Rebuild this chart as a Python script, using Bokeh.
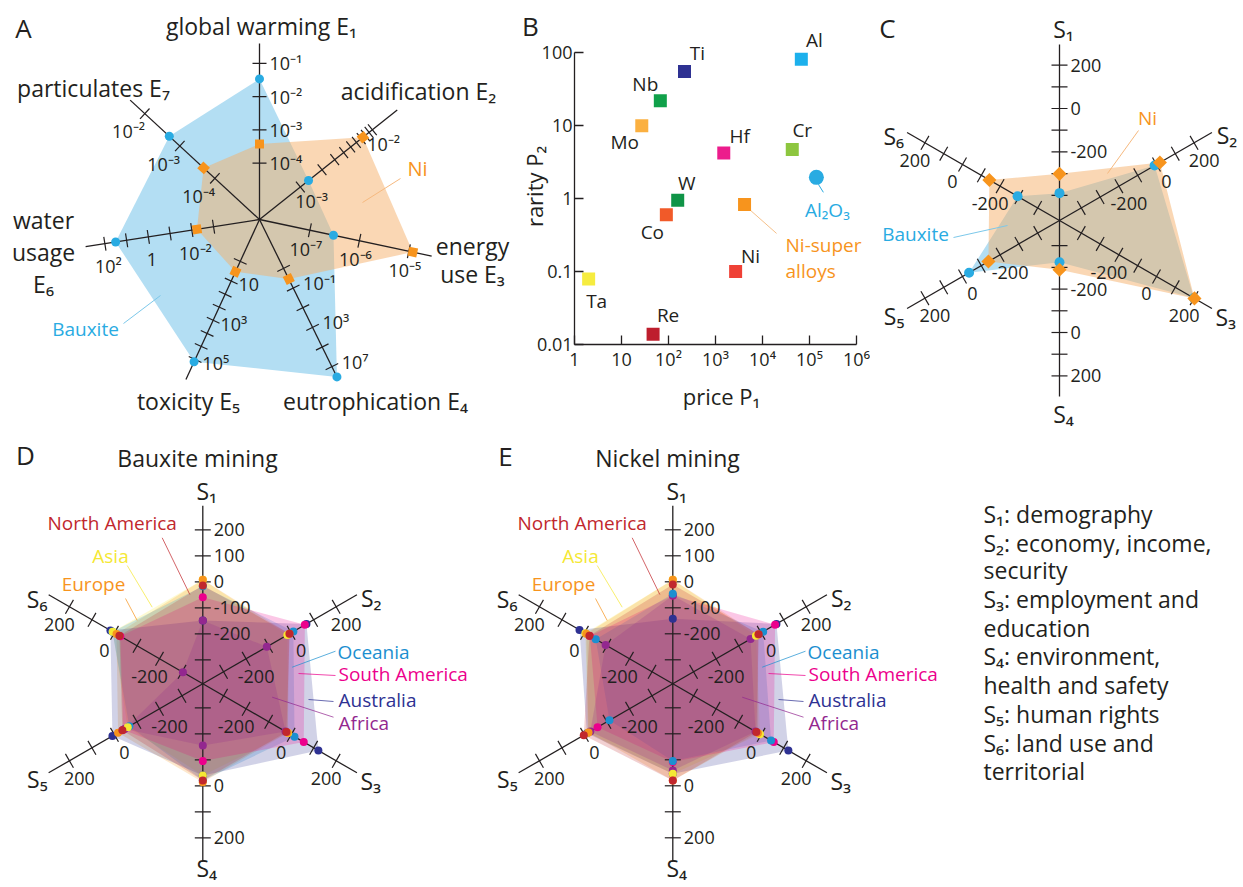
import math
from bokeh.plotting import figure
from bokeh.models import Range1d, LabelSet, ColumnDataSource, FixedTicker
from bokeh.layouts import row, column
from bokeh.embed import file_html
from bokeh.resources import INLINE
from bokeh.core.properties import value

FONT = "Open Sans"
INK = "#231f20"

# ======================= DATA =======================
# Panel A - environmental indicators (log scales)
env_names = ["global warming E₁", "acidification E₂", "energy\nuse E₃", "eutrophication E₄",
             "toxicity E₅", "water\nusage\nE₆", "particulates E₇"]
env_bauxite = [3.4e-2, 1.3e-3, 3.0e-7, 1.1e8, 1.3e5, 32.0, 2.0e-3]
env_nickel = [3.8e-4, 7.4e-3, 1.2e-5, 1.2e-2, 3.4, 5.8e-3, 2.1e-4]
env_ticks = [
    [1e-4, 1e-3, 1e-2, 1e-1],
    [1e-3, 2e-3, 3e-3, 4e-3, 5e-3, 6e-3, 7e-3, 8e-3, 9e-3, 1e-2],
    [1e-7, 1e-6, 1e-5],
    [1e-3, 1e-1, 1e1, 1e3, 1e5, 1e7],
    [1, 10, 47, 214, 1e3, 4.7e3, 2.14e4, 1e5],
    [1e-3, 1e-2, 1e-1, 1, 10, 100],
    [1e-4, 1e-3, 1e-2],
]
env_tick_labels = [
    [(1e-4, "10⁻⁴"), (1e-3, "10⁻³"), (1e-2, "10⁻²"), (1e-1, "10⁻¹")],
    [(1e-3, "10⁻³"), (1e-2, "10⁻²")],
    [(1e-7, "10⁻⁷"), (1e-6, "10⁻⁶"), (1e-5, "10⁻⁵")],
    [(1e-1, "10⁻¹"), (1e3, "10³"), (1e7, "10⁷")],
    [(10, "10"), (1e3, "10³"), (1e5, "10⁵")],
    [(1e-2, "10⁻²"), (1, "1"), (1e2, "10²")],
    [(1e-4, "10⁻⁴"), (1e-3, "10⁻³"), (1e-2, "10⁻²")],
]

# Panel B - price vs rarity
b_names = ["Ti", "Al", "Nb", "Mo", "Hf", "Cr", "W", "Co", "Ni-super\nalloys", "Ni", "Ta", "Re"]
b_price = [219, 6.7e4, 67, 27, 1.5e3, 4.3e4, 157, 90, 4.15e3, 2.68e3, 2.0, 47]
b_rarity = [55, 81, 21.8, 9.9, 4.2, 4.7, 0.95, 0.60, 0.83, 0.10, 0.079, 0.0138]
b_colors = ["#2e3192", "#1cb0ec", "#10a14a", "#fbb040", "#ec1c8c", "#8dc63f", "#0f9447",
            "#f15a29", "#f7941d", "#ef4136", "#f6ec3f", "#be1e2d"]
b_oxide_name = ["Al₂O₃"]
b_oxide_price = [1.4e5]
b_oxide_rarity = [1.95]
b_xticks = [1, 10, 100, 1000, 10000, 100000, 1000000]
b_xtick_labels = ["1", "10", "10²", "10³", "10⁴", "10⁵", "10⁶"]
b_yticks = [0.01, 0.1, 1, 10, 100]
b_ytick_labels = ["0.01", "0.1", "1", "10", "100"]

# Panel C - social indicators S1..S6
s_names = ["S₁", "S₂", "S₃", "S₄", "S₅", "S₆"]
c_bauxite = [-390, -10, 199, -324, -35, -293]
c_nickel = [-301, 18, 202, -289, -138, -143]

# Panels D, E - regions
regions = ["North America", "Asia", "Europe", "Oceania", "South America", "Australia", "Africa"]
region_colors = ["#c1272d", "#f5e834", "#f7941d", "#1c8fd0", "#ec008c", "#2e3192", "#93278f"]
d_north_america = [-14, -7, -21, -20, -35, -22]
d_asia = [8, -17, -13, -40, -59, 8]
d_europe = [8, -8, -15, -14, -16, -9]
d_oceania = [-17, 10, 15, -20, -66, 9]
d_south_america = [-59, 61, 56, -95, -39, -26]
d_australia = [-149, 68, 121, -40, 9, 18]
d_africa = [-149, -108, -25, -155, -45, -304]
e_north_america = [-10, -11, -21, -20, 3, -22]
e_asia = [8, -23, -5, -46, -16, -4]
e_europe = [8, -13, -14, -20, -18, -8]
e_oceania = [-46, 9, 44, -95, -111, -50]
e_south_america = [-53, 62, 56, -92, -58, -24]
e_australia = [-142, 68, 121, -46, -11, 22]
e_africa = [-53, -47, -25, -59, -26, -94]

legend_lines = ["S₁: demography", "S₂: economy, income,", "security", "S₃: employment and",
                "education", "S₄: environment,", "health and safety", "S₅: human rights",
                "S₆: land use and", "territorial"]

BLUE_FILL = "#b3def3"
ORANGE_FILL = "#f5af69"
BLUE = "#29abe2"
ORANGE = "#f7941d"


# ======================= HELPERS =======================
def radar_fig(W, H, OX, OY, CX, CY):
    p = figure(width=W, height=H,
               x_range=Range1d(OX - CX, OX + W - CX),
               y_range=Range1d(CY - (OY + H), CY - OY),
               x_axis_location=None, y_axis_location=None,
               toolbar_location=None, tools="", output_backend="svg", min_border=0)
    p.grid.visible = False
    p.outline_line_color = None
    p.frame_align = False
    return p


def put_text(p, xs, ys, texts, size, color=INK, align="center", angle=0.0):
    p.text(x=list(xs), y=list(ys), text=list(texts), text_font=value(FONT),
           text_font_size=f"{size}px", text_color=color, text_align=align,
           text_baseline="middle", angle=angle)


def unit(deg):
    t = math.radians(deg)
    return math.cos(t), math.sin(t)


TOP_H = 430
BOT_H = 455

# ======================= PANEL A =======================
A = dict(W=553, H=TOP_H, OX=0, OY=0, CX=259.0, CY=219.0)
pA = radar_fig(**A)
ra = lambda xr, yr: (xr - A["CX"], A["CY"] - yr)

A_ANG = [90.0, 38.5, -12.0, -63.8, -114.7, 188.9, 137.3]
A_REF_LOG = [-4, -3, -7, -3, 1, -2, -4]
A_REF_R = [56.3, 52.2, 51.5, 54.5, 67.7, 68.5, 60.7]
A_PX_DEC = [33.3, 92.0, 50.6, 10.95, 21.6, 22.0, 47.7]
A_LEN = 176
A_LAB_SIDE = [1, 1, 1, -1, -1, -1, -1]
A_LAB_OFF = [10, 18, 19, 11, 8, 23, 24]
A_LAB_ALIGN = ["left", "center", "center", "left", "left", "center", "center"]


def a_r(i, v):
    return A_REF_R[i] + (math.log10(v) - A_REF_LOG[i]) * A_PX_DEC[i]


def a_pt(i, v):
    ux, uy = unit(A_ANG[i])
    r = a_r(i, v)
    return r * ux, r * uy


bpts = [a_pt(i, v) for i, v in enumerate(env_bauxite)]
npts = [a_pt(i, v) for i, v in enumerate(env_nickel)]
pA.patch([q[0] for q in bpts], [q[1] for q in bpts], fill_color=BLUE_FILL, line_color=None)
pA.patch([q[0] for q in npts], [q[1] for q in npts], fill_color=ORANGE_FILL, fill_alpha=0.5,
         line_color=None)

ax_x1, ax_y1 = [], []
tx0, ty0, tx1, ty1 = [], [], [], []
for i in range(7):
    ux, uy = unit(A_ANG[i])
    ax_x1.append(A_LEN * ux)
    ax_y1.append(A_LEN * uy)
    nx, ny = -uy, ux
    for v in env_ticks[i]:
        r = a_r(i, v)
        tx0.append(r * ux - 7 * nx); ty0.append(r * uy - 7 * ny)
        tx1.append(r * ux + 7 * nx); ty1.append(r * uy + 7 * ny)
pA.segment(x0=[0] * 7, y0=[0] * 7, x1=ax_x1, y1=ax_y1, line_color=INK, line_width=1.3)
pA.segment(x0=tx0, y0=ty0, x1=tx1, y1=ty1, line_color=INK, line_width=1.2)

for i in range(7):
    ux, uy = unit(A_ANG[i])
    t = math.radians(A_ANG[i])
    sx, sy = A_LAB_SIDE[i] * math.sin(t), -A_LAB_SIDE[i] * math.cos(t)
    xs, ys, ts = [], [], []
    for v, lab in env_tick_labels[i]:
        r = a_r(i, v)
        xs.append(r * ux + A_LAB_OFF[i] * sx)
        ys.append(r * uy + A_LAB_OFF[i] * sy)
        ts.append(lab)
    put_text(pA, xs, ys, ts, 18, align=A_LAB_ALIGN[i])

pA.scatter([q[0] for q in bpts], [q[1] for q in bpts], marker="circle", size=9,
           fill_color=BLUE, line_color=None)
pA.scatter([q[0] for q in npts], [q[1] for q in npts], marker="square", size=9,
           angle=[math.radians(a) for a in A_ANG], fill_color=ORANGE, line_color=None)

A_TITLE_POS = [(261, 25), (418, 90), (472, 245), (375, 400), (188, 400), (43, 219), (93, 87)]
A_TITLE_GAP = [0, 0, 28, 0, 0, 32, 0]
for name, (xr, yr), gap in zip(env_names, A_TITLE_POS, A_TITLE_GAP):
    for k, line in enumerate(name.split("\n")):
        x, y = ra(xr, yr + k * gap)
        put_text(pA, [x], [y], [line], 23)

x0, y0 = ra(400, 178); x1, y1 = ra(362, 202)
pA.segment([x0], [y0], [x1], [y1], line_color="#f6b97f", line_width=1)
x0, y0 = ra(123, 323); x1, y1 = ra(160, 295)
pA.segment([x0], [y0], [x1], [y1], line_color="#7cc8ea", line_width=1)
x, y = ra(417, 168); put_text(pA, [x], [y], ["Ni"], 20, color=ORANGE)
x, y = ra(85, 328); put_text(pA, [x], [y], ["Bauxite"], 19, color=BLUE)
x, y = ra(23, 27); put_text(pA, [x], [y], ["A"], 26)
x, y = ra(530, 25); put_text(pA, [x], [y], ["B"], 26)

# ======================= PANEL B =======================
# frame (page pixels): left 574 (x=1), 47 px/decade; 0.01 at 344, 73 px/decade
B_LEFT, B_TOP, B_RIGHT, B_BOTTOM = 574.0, 28.0, 868.0, 344.0
B_X0, B_W = 460.0, 410
B_PXX, B_PXY = 47.0, 73.0
x_end = 10 ** ((B_RIGHT - B_LEFT) / B_PXX)
y_start = 0.01
y_end = 10 ** (-2 + (B_BOTTOM - B_TOP) / B_PXY)
pB = figure(width=B_W, height=TOP_H, x_axis_type="log", y_axis_type="log",
            x_range=Range1d(1, x_end), y_range=Range1d(y_start, y_end),
            toolbar_location=None, tools="", output_backend="svg",
            min_border_left=int(B_LEFT - B_X0), min_border_right=int(B_X0 + B_W - B_RIGHT),
            min_border_top=int(B_TOP), min_border_bottom=int(TOP_H - B_BOTTOM),
            margin=(0, 0, 0, int(B_X0 - A["W"])))
pB.frame_align = False
pB.grid.visible = False
pB.outline_line_color = None
pB.background_fill_color = None
pB.border_fill_color = None
for ax in (pB.xaxis[0], pB.yaxis[0]):
    ax.major_tick_in = 9
    ax.major_tick_out = 0
    ax.minor_tick_line_color = None
    ax.axis_line_width = 1.3
    ax.axis_line_color = INK
    ax.major_tick_line_width = 1.3
    ax.major_tick_line_color = INK
    ax.major_label_text_font = FONT
    ax.major_label_text_font_size = "18px"
    ax.major_label_text_color = INK
    ax.major_label_standoff = 2
    ax.axis_label_text_font = FONT
    ax.axis_label_text_font_size = "22px"
    ax.axis_label_text_font_style = "normal"
    ax.axis_label_text_color = INK
pB.xaxis.bounds = (1, 1e6)
pB.yaxis.bounds = (0.01, 100)
pB.xaxis.ticker = FixedTicker(ticks=b_xticks)
pB.yaxis.ticker = FixedTicker(ticks=b_yticks)
xo = {}
for t, lab in zip(b_xticks, b_xtick_labels):
    xo[float(t)] = lab
    xo[str(t)] = lab
yo = {}
for t, lab in zip(b_yticks, b_ytick_labels):
    yo[float(t)] = lab
    yo[lab] = lab
pB.xaxis.major_label_overrides = xo
pB.yaxis.major_label_overrides = yo
pB.xaxis.axis_label = "price P₁"
pB.xaxis.axis_label_standoff = 7
pB.yaxis.axis_label = "rarity P₂"
pB.yaxis.axis_label_standoff = -15


def b_shift(x, y, dx, dy):
    return x * 10 ** (dx / B_PXX), y * 10 ** (-dy / B_PXY)


lx0, ly0 = b_shift(b_price[8], b_rarity[8], 6, 6)
lx1, ly1 = b_shift(b_price[8], b_rarity[8], 32, 29)
pB.segment([lx0], [ly0], [lx1], [ly1], line_color="#f5c08a", line_width=1)
ox0, oy0 = b_shift(b_oxide_price[0], b_oxide_rarity[0], 2, 7)
ox1, oy1 = b_shift(b_oxide_price[0], b_oxide_rarity[0], 7, 15)
pB.segment([ox0], [oy0], [ox1], [oy1], line_color=BLUE, line_width=1)

pB.scatter(b_price, b_rarity, marker="square", size=13, fill_color=b_colors, line_color=None)
pB.scatter(b_oxide_price, b_oxide_rarity, marker="circle", size=15, fill_color=BLUE,
           line_color=None)

B_LAB_OFF = [(13, -18), (13, -19), (-15, -17), (-17, 16), (16, -17), (10, -19), (9, -17),
             (-14, 17), (79, 54), (15, -16), (8, 22), (15, -19)]
lab_colors = [INK] * len(b_names)
lab_colors[8] = ORANGE
src = ColumnDataSource(dict(
    x=b_price + b_oxide_price, y=b_rarity + b_oxide_rarity,
    t=b_names + b_oxide_name,
    dx=[o[0] for o in B_LAB_OFF] + [11], dy=[-o[1] for o in B_LAB_OFF] + [-33],
    c=lab_colors + [BLUE]))
pB.add_layout(LabelSet(x="x", y="y", text="t", x_offset="dx", y_offset="dy", source=src,
                       text_font=value(FONT), text_font_size=value("19px"), text_color="c",
                       text_align="center", text_baseline="middle", text_line_height=1.0))

# ======================= HEX RADAR HELPERS =======================
S_ANG = [90, 30, -30, -90, -150, 150]


def hex_axes(p, r_of, tick_vals, label_vals, length, lab_polar, half=8):
    ax1x, ax1y, t0x, t0y, t1x, t1y = [], [], [], [], [], []
    for th in S_ANG:
        ux, uy = unit(th)
        ax1x.append(length * ux); ax1y.append(length * uy)
        nx, ny = -uy, ux
        for v in tick_vals:
            r = r_of(v)
            t0x.append(r * ux - half * nx); t0y.append(r * uy - half * ny)
            t1x.append(r * ux + half * nx); t1y.append(r * uy + half * ny)
    p.segment(x0=[0] * 6, y0=[0] * 6, x1=ax1x, y1=ax1y, line_color=INK, line_width=1.3)
    p.segment(x0=t0x, y0=t0y, x1=t1x, y1=t1y, line_color=INK, line_width=1.2)
    for i, th in enumerate(S_ANG):
        ux, uy = unit(th)
        xs, ys, ts = [], [], []
        if th in (90, -90):
            for v in label_vals[i]:
                r = r_of(v)
                xs.append(11); ys.append(r * uy); ts.append(str(v))
            put_text(p, xs, ys, ts, 18, align="left")
        else:
            t = math.radians(th)
            sx, sy = math.sin(t), -math.cos(t)
            if sy > 0:
                sx, sy = -sx, -sy
            for v in label_vals[i]:
                r = r_of(v)
                xs.append(r * ux + 20 * sx); ys.append(r * uy + 20 * sy); ts.append(str(v))
            put_text(p, xs, ys, ts, 18, align="center")
    xs, ys = [], []
    for (r, th) in lab_polar:
        ux, uy = unit(th)
        xs.append(r * ux + (4 if th in (90, -90) else 0)); ys.append(r * uy)
    put_text(p, xs, ys, s_names, 23)


def hex_pts(r_of, vals):
    out = []
    for v, th in zip(vals, S_ANG):
        ux, uy = unit(th)
        r = r_of(v)
        out.append((r * ux, r * uy))
    return out


# ======================= PANEL C =======================
C = dict(W=373, H=TOP_H, OX=870, OY=0, CX=1059.0, CY=220.0)
pC = radar_fig(**C)
rc = lambda xr, yr: (xr - C["CX"], C["CY"] - yr)
c_r = lambda v: 112 + 0.217 * v
cb = hex_pts(c_r, c_bauxite)
cn = hex_pts(c_r, c_nickel)
pC.patch([q[0] for q in cb], [q[1] for q in cb], fill_color=BLUE_FILL, line_color=None)
pC.patch([q[0] for q in cn], [q[1] for q in cn], fill_color=ORANGE_FILL, fill_alpha=0.5,
         line_color=None)
hex_axes(pC, c_r, [-400, -300, -200, -100, 0, 100, 200],
         [[200, 0, -200], [-200, 0, 200], [-200, 0, 200], [-200, 0, 200], [-200, 0, 200],
          [-200, 0, 200]], 176,
         [(192, 90), (188, 27), (192, -30), (193, -90), (191, -150), (186, 153)])
pC.scatter([q[0] for q in cb], [q[1] for q in cb], marker="circle", size=10,
           fill_color=BLUE, line_color=None)
pC.scatter([q[0] for q in cn], [q[1] for q in cn], marker="square", size=10,
           angle=math.pi / 4, fill_color=ORANGE, line_color=None)
x0, y0 = rc(1138, 130); x1, y1 = rc(1107, 173)
pC.segment([x0], [y0], [x1], [y1], line_color="#f6b97f", line_width=1)
x0, y0 = rc(953, 237); x1, y1 = rc(1007, 225)
pC.segment([x0], [y0], [x1], [y1], line_color="#7cc8ea", line_width=1)
x, y = rc(1147, 117); put_text(pC, [x], [y], ["Ni"], 19, color=ORANGE)
x, y = rc(915, 233); put_text(pC, [x], [y], ["Bauxite"], 19, color=BLUE)
x, y = rc(887, 27); put_text(pC, [x], [y], ["C"], 26)

# ======================= PANELS D, E =======================
REG_LAB_POS = [(111.7, 522.7, "center"), (110, 555, "center"), (93, 583, "center"),
               (337, 651.7, "left"), (338, 673, "left"), (338, 699, "left"),
               (338, 722.7, "left")]
REG_LEADERS = [((161.7, 537.3), (189.3, 594)), ((126.7, 565), (151.7, 606.7)),
               ((125, 598), (136.7, 620)), ((335, 650.7), (291.7, 666.7)),
               ((335, 675), (298, 673)), ((333, 701), (308, 699)),
               ((333, 716.7), (271.7, 696.7))]
FILL_ORDER = [1, 2, 3, 5, 4, 0, 6]


def region_panel(P, dx_ref, vals, title):
    p = radar_fig(**P)
    rr = lambda xr, yr: (xr - P["CX"], P["CY"] - yr)
    r_of = lambda v: 102 + 0.26 * v
    pts = [hex_pts(r_of, v) for v in vals]
    for k in FILL_ORDER:
        p.patch([q[0] for q in pts[k]], [q[1] for q in pts[k]], fill_color=region_colors[k],
                fill_alpha=0.22, line_color=None)
    hex_axes(p, r_of, [-300, -200, -100, 0, 100, 200],
             [[200, 100, 0, -100, -200], [-200, 0, 200], [-200, 0, 200], [0, 200],
              [-200, 0, 200], [-200, 0, 200]], 178,
             [(193, 90), (189, 27), (194, -30), (184, -90), (191, -150), (186, 153)])
    for k in [5, 4, 6, 3, 1, 2, 0]:
        p.scatter([q[0] for q in pts[k]], [q[1] for q in pts[k]], marker="circle", size=8,
                  fill_color=region_colors[k], line_color=None)
    for k in range(7):
        (a, b), (c, d) = REG_LEADERS[k]
        x0, y0 = rr(a + dx_ref, b); x1, y1 = rr(c + dx_ref, d)
        p.segment([x0], [y0], [x1], [y1], line_color=region_colors[k], line_width=0.9,
                  line_alpha=0.8)
        xr, yr, al = REG_LAB_POS[k]
        x, y = rr(xr + dx_ref, yr)
        put_text(p, [x], [y], [regions[k]], 19, color=region_colors[k], align=al)
    x, y = rr(197 + dx_ref, 457); put_text(p, [x], [y], [title], 23)
    return p, rr


D = dict(W=470, H=BOT_H, OX=0, OY=430, CX=202.3, CY=683.3)
pD, rd = region_panel(D, 0, [d_north_america, d_asia, d_europe, d_oceania, d_south_america,
                             d_australia, d_africa], "Bauxite mining")
x, y = rd(25, 454); put_text(pD, [x], [y], ["D"], 26)

E = dict(W=470, H=BOT_H, OX=470, OY=430, CX=672.3, CY=683.3)
pE, re_ = region_panel(E, 470, [e_north_america, e_asia, e_europe, e_oceania, e_south_america,
                                e_australia, e_africa], "Nickel mining")
x, y = re_(505, 455); put_text(pE, [x], [y], ["E"], 26)

# ======================= LEGEND TEXT =======================
L = dict(W=301, H=BOT_H, OX=940, OY=430, CX=940.0, CY=430.0)
pL = radar_fig(**L)
rl = lambda xr, yr: (xr - L["CX"], L["CY"] - yr)
LEG_Y = [513, 542.5, 569, 598, 627, 655, 684, 713, 742, 770]
xs, ys = [], []
for yy in LEG_Y:
    x, y = rl(983, yy)
    xs.append(x); ys.append(y)
put_text(pL, xs, ys, legend_lines, 23, align="left")

layout = column(row(pA, pB, pC), row(pD, pE, pL))
open("out.html", "w").write(file_html(layout, INLINE))
